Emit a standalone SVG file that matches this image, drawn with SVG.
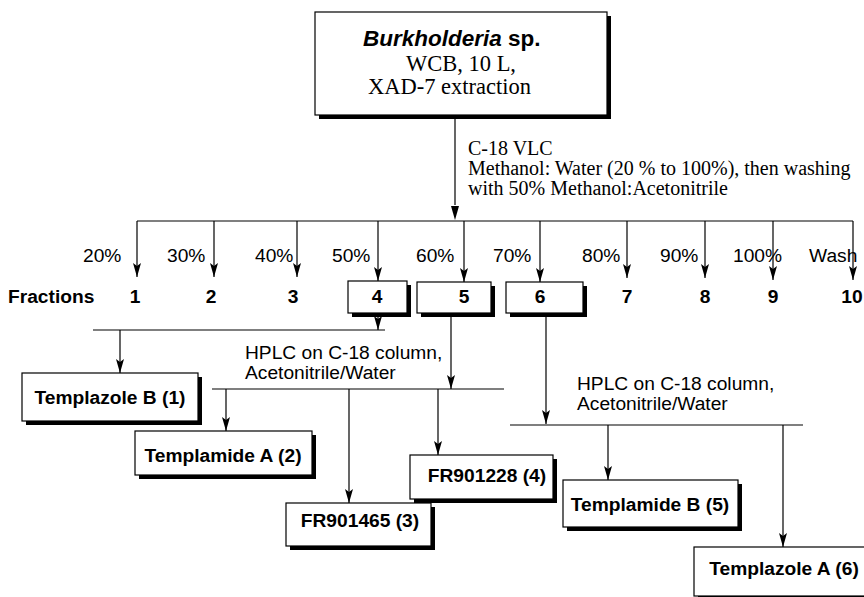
<svg xmlns="http://www.w3.org/2000/svg" width="864" height="597" viewBox="0 0 864 597">
<style>
.sans{font-family:"Liberation Sans",Arial,sans-serif;font-size:19.2px;fill:#000}
.b{font-weight:bold}
.serif{font-family:"Liberation Serif","Times New Roman",serif;font-size:20px;fill:#000}
.top{font-size:22.5px}
.box{fill:#fff;stroke:#000;stroke-width:1.2}
.sh{fill:#000}
.ln{stroke:#000;stroke-width:1.2;fill:none}
.ar{stroke:#000;stroke-width:1.2;fill:none;marker-end:url(#ah)}
</style>
<defs>
<marker id="ah" markerUnits="userSpaceOnUse" viewBox="0 0 8 14" refX="4" refY="14" markerWidth="8" markerHeight="14" orient="0">
<path d="M0,0 L4,14 L8,0 L4,3 z" fill="#000"/>
</marker>
</defs>
<rect width="864" height="597" fill="#fff"/>

<g id="connectors">
<line class="ln" x1="455" y1="119" x2="455" y2="205"/>
<path d="M451,206 L455,220 L459,206 z" fill="#000"/>
<line class="ln" x1="137" y1="221" x2="853" y2="221"/>
<line class="ar" x1="137" y1="221" x2="137" y2="277"/>
<line class="ar" x1="214" y1="221" x2="214" y2="277"/>
<line class="ar" x1="297" y1="221" x2="297" y2="277"/>
<line class="ar" x1="378" y1="221" x2="378" y2="281"/>
<line class="ar" x1="464" y1="221" x2="464" y2="282"/>
<line class="ar" x1="540" y1="221" x2="540" y2="282"/>
<line class="ar" x1="627" y1="221" x2="627" y2="278"/>
<line class="ar" x1="705" y1="221" x2="705" y2="278"/>
<line class="ar" x1="773" y1="221" x2="773" y2="280"/>
<line class="ar" x1="853" y1="221" x2="853" y2="280"/>
<line class="ar" x1="378" y1="316" x2="378" y2="330"/>
<line class="ln" x1="93" y1="330" x2="385" y2="330"/>
<line class="ar" x1="120" y1="330" x2="120" y2="373"/>
<line class="ar" x1="451" y1="316" x2="451" y2="389"/>
<line class="ln" x1="212" y1="389" x2="504" y2="389"/>
<line class="ar" x1="226" y1="389" x2="226" y2="431"/>
<line class="ar" x1="349" y1="389" x2="349" y2="503"/>
<line class="ar" x1="438" y1="389" x2="438" y2="455"/>
<line class="ar" x1="546" y1="316" x2="546" y2="424"/>
<line class="ln" x1="510" y1="425" x2="803" y2="425"/>
<line class="ar" x1="608" y1="425" x2="608" y2="480"/>
<line class="ar" x1="783" y1="425" x2="783" y2="547"/>
</g>

<g id="labels">
<text class="serif" x="468" y="155">C-18 VLC</text>
<text class="serif" x="468" y="175">Methanol: Water (20 % to 100%), then washing</text>
<text class="serif" x="468" y="195">with 50% Methanol:Acetonitrile</text>
<text class="sans" x="83" y="262">20%</text>
<text class="sans" x="167" y="262">30%</text>
<text class="sans" x="255" y="262">40%</text>
<text class="sans" x="332" y="262">50%</text>
<text class="sans" x="416" y="262">60%</text>
<text class="sans" x="493" y="262">70%</text>
<text class="sans" x="582" y="262">80%</text>
<text class="sans" x="660" y="262">90%</text>
<text class="sans" x="733" y="262">100%</text>
<text class="sans" x="809" y="262">Wash</text>
<text class="sans b" x="8" y="303">Fractions</text>
<text class="sans" x="245" y="359">HPLC on C-18 column,</text>
<text class="sans" x="245" y="379">Acetonitrile/Water</text>
<text class="sans" x="577" y="390">HPLC on C-18 column,</text>
<text class="sans" x="577" y="410">Acetonitrile/Water</text>
</g>

<g id="n-source">
<rect class="sh" x="319" y="16" width="292" height="103"/>
<rect class="box" x="315" y="12" width="292" height="103"/>
<text class="sans b top" x="363" y="46"><tspan font-style="italic">Burkholderia</tspan> sp.</text>
<text class="serif top" x="406" y="71">WCB, 10 L,</text>
<text class="serif top" x="368" y="94">XAD-7 extraction</text>
</g>

<g id="f1"><text class="sans b" x="135" y="303" text-anchor="middle">1</text></g>
<g id="f2"><text class="sans b" x="211" y="303" text-anchor="middle">2</text></g>
<g id="f3"><text class="sans b" x="293" y="303" text-anchor="middle">3</text></g>
<g id="f4">
<rect class="sh" x="352" y="285" width="59" height="32"/>
<rect class="box" x="348" y="281" width="59" height="32"/>
<text class="sans b" x="377" y="303" text-anchor="middle">4</text>
</g>
<g id="f5">
<rect class="sh" x="421" y="286" width="74" height="31"/>
<rect class="box" x="417" y="282" width="74" height="31"/>
<text class="sans b" x="464" y="303" text-anchor="middle">5</text>
</g>
<g id="f6">
<rect class="sh" x="510" y="286" width="77" height="31"/>
<rect class="box" x="506" y="282" width="77" height="31"/>
<text class="sans b" x="540" y="303" text-anchor="middle">6</text>
</g>
<g id="f7"><text class="sans b" x="627" y="303" text-anchor="middle">7</text></g>
<g id="f8"><text class="sans b" x="705" y="303" text-anchor="middle">8</text></g>
<g id="f9"><text class="sans b" x="773" y="303" text-anchor="middle">9</text></g>
<g id="f10"><text class="sans b" x="852" y="303" text-anchor="middle">10</text></g>

<g id="c1">
<rect class="sh" x="26" y="377" width="176" height="48"/>
<rect class="box" x="22" y="373" width="176" height="48"/>
<text class="sans b" x="110" y="404" text-anchor="middle">Templazole B (1)</text>
</g>
<g id="c2">
<rect class="sh" x="139" y="435" width="177" height="44"/>
<rect class="box" x="135" y="431" width="177" height="44"/>
<text class="sans b" x="223" y="462" text-anchor="middle">Templamide A (2)</text>
</g>
<g id="c3">
<rect class="sh" x="290" y="507" width="145" height="43"/>
<rect class="box" x="286" y="503" width="145" height="43"/>
<text class="sans b" x="360" y="527" text-anchor="middle">FR901465 (3)</text>
</g>
<g id="c4">
<rect class="sh" x="414" y="459" width="143" height="44"/>
<rect class="box" x="410" y="455" width="143" height="44"/>
<text class="sans b" x="487" y="482" text-anchor="middle">FR901228 (4)</text>
</g>
<g id="c5">
<rect class="sh" x="567" y="484" width="175" height="47"/>
<rect class="box" x="563" y="480" width="175" height="47"/>
<text class="sans b" x="650" y="511" text-anchor="middle">Templamide B (5)</text>
</g>
<g id="c6">
<rect class="sh" x="698" y="551" width="176" height="50"/>
<rect class="box" x="694" y="547" width="176" height="49"/>
<text class="sans b" x="784" y="575" text-anchor="middle">Templazole A (6)</text>
</g>
</svg>
